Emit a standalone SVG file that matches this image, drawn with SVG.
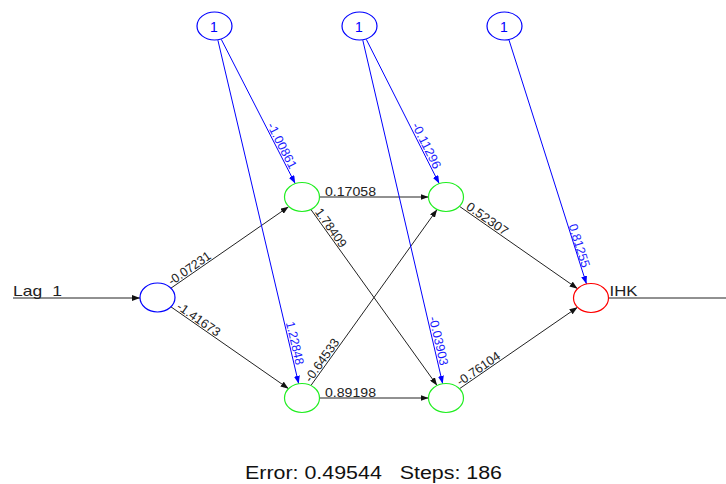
<svg xmlns="http://www.w3.org/2000/svg" width="726" height="484" viewBox="0 0 726 484">
<style>
.bg{fill:#fff}
.nb{fill:#fff;stroke:#0000ff;stroke-width:1.2}
.nh{fill:#fff;stroke:#22ee22;stroke-width:1.2}
.no{fill:#fff;stroke:#ff0000;stroke-width:1.2}
.e{stroke:#222;stroke-width:1;fill:none}
.eb{stroke:#0000ff;stroke-width:1;fill:none}
.t{font-family:"Liberation Sans",Arial,sans-serif;font-size:12.5px;fill:#222}
.tb{font-family:"Liberation Sans",Arial,sans-serif;font-size:12.5px;fill:#1a1aff}
.tn{font-family:"Liberation Sans",Arial,sans-serif;font-size:14px;fill:#0000ff;text-anchor:middle}
.tl{font-family:"Liberation Sans",Arial,sans-serif;font-size:15px;fill:#222}
.tf{font-family:"Liberation Sans",Arial,sans-serif;font-size:18px;fill:#111}
</style>
<defs>
<marker id="ak" markerWidth="8" markerHeight="6" refX="8" refY="3" orient="auto" markerUnits="userSpaceOnUse"><path d="M0,0 L8,3 L0,6 z" fill="#111"/></marker>
<marker id="ab" markerWidth="8" markerHeight="6" refX="8" refY="3" orient="auto" markerUnits="userSpaceOnUse"><path d="M0,0 L8,3 L0,6 z" fill="#0000ff"/></marker>
</defs>
<rect class="bg" x="0" y="0" width="726" height="484"/>
<g id="connectors">
<line class="e" x1="13" y1="298" x2="140" y2="298" marker-end="url(#ak)"/>
<line class="e" x1="608.5" y1="298" x2="726" y2="298"/>
<line class="e" x1="170.9" y1="288.2" x2="288.6" y2="206.7" marker-end="url(#ak)"/>
<line class="e" x1="170.9" y1="306.8" x2="288.6" y2="388.7" marker-end="url(#ak)"/>
<line class="e" x1="319.5" y1="197" x2="428.5" y2="197" marker-end="url(#ak)"/>
<line class="e" x1="310.9" y1="209.5" x2="437.1" y2="385.5" marker-end="url(#ak)"/>
<line class="e" x1="310.9" y1="385.5" x2="437.1" y2="209.5" marker-end="url(#ak)"/>
<line class="e" x1="319.5" y1="398" x2="428.5" y2="398" marker-end="url(#ak)"/>
<line class="e" x1="459.4" y1="206.3" x2="577.6" y2="288.7" marker-end="url(#ak)"/>
<line class="e" x1="459.5" y1="388.7" x2="577.5" y2="307.3" marker-end="url(#ak)"/>
<line class="eb" x1="221.3" y1="39.4" x2="295.2" y2="183.6" marker-end="url(#ab)"/>
<line class="eb" x1="217.9" y1="40.2" x2="298.7" y2="383.8" marker-end="url(#ab)"/>
<line class="eb" x1="366.3" y1="39.4" x2="439.2" y2="183.6" marker-end="url(#ab)"/>
<line class="eb" x1="362.8" y1="40.2" x2="442.7" y2="383.8" marker-end="url(#ab)"/>
<line class="eb" x1="509" y1="40" x2="586.5" y2="284" marker-end="url(#ab)"/>
<text class="t" transform="translate(172.5,287.1) rotate(-34.8)" x="0" y="-1.5" textLength="49" lengthAdjust="spacingAndGlyphs">-0.07231</text>
<text class="t" transform="translate(175,309.7) rotate(34.8)" x="0" y="-1.5" textLength="50" lengthAdjust="spacingAndGlyphs">-1.41673</text>
<text class="t" transform="translate(313.2,212.8) rotate(54.4)" x="0" y="-1.5" textLength="45" lengthAdjust="spacingAndGlyphs">1.78409</text>
<text class="t" transform="translate(312,383.9) rotate(-54.4)" x="0" y="-1.5" textLength="50" lengthAdjust="spacingAndGlyphs">-0.64533</text>
<text class="t" transform="translate(464.3,209.7) rotate(34.8)" x="0" y="-1.5" textLength="48" lengthAdjust="spacingAndGlyphs">0.52307</text>
<text class="t" transform="translate(461.1,387.6) rotate(-34.6)" x="0" y="-1.5" textLength="50" lengthAdjust="spacingAndGlyphs">-0.76104</text>
<text class="t" x="325" y="196" textLength="51" lengthAdjust="spacingAndGlyphs">0.17058</text>
<text class="t" x="325" y="397" textLength="51" lengthAdjust="spacingAndGlyphs">0.89198</text>
<text class="tb" transform="translate(265.5,126) rotate(62.9)" x="0" y="-1.5" textLength="50" lengthAdjust="spacingAndGlyphs">-1.00861</text>
<text class="tb" transform="translate(410.1,125.9) rotate(63.2)" x="0" y="-1.5" textLength="50" lengthAdjust="spacingAndGlyphs">-0.11296</text>
<text class="tb" transform="translate(567,226) rotate(72.4)" x="0" y="-1.5" textLength="45" lengthAdjust="spacingAndGlyphs">0.81255</text>
<text class="tb" transform="translate(284.4,323) rotate(76.8)" x="0" y="-1.5" textLength="44" lengthAdjust="spacingAndGlyphs">1.22848</text>
<text class="tb" transform="translate(427.4,317.8) rotate(76.9)" x="0" y="-1.5" textLength="50" lengthAdjust="spacingAndGlyphs">-0.03903</text>
</g>
<g id="bias1"><ellipse class="nb" cx="214.5" cy="26" rx="17.5" ry="14"/><text class="tn" x="214" y="32">1</text></g>
<g id="bias2"><ellipse class="nb" cx="359.5" cy="26" rx="17.5" ry="14"/><text class="tn" x="359" y="32">1</text></g>
<g id="bias3"><ellipse class="nb" cx="504.5" cy="26" rx="17.5" ry="14"/><text class="tn" x="504" y="32">1</text></g>
<g id="input"><ellipse class="nb" cx="157.5" cy="297.5" rx="17.5" ry="14.5"/><text class="tl" x="13" y="296" word-spacing="4.5" textLength="49" lengthAdjust="spacingAndGlyphs">Lag 1</text></g>
<g id="hidden1a"><ellipse class="nh" cx="302" cy="197" rx="17.5" ry="14.5"/></g>
<g id="hidden1b"><ellipse class="nh" cx="302" cy="398" rx="17.5" ry="14.5"/></g>
<g id="hidden2a"><ellipse class="nh" cx="446" cy="197" rx="17.5" ry="14.5"/></g>
<g id="hidden2b"><ellipse class="nh" cx="446" cy="398" rx="17.5" ry="14.5"/></g>
<g id="output"><ellipse class="no" cx="591" cy="298" rx="17.5" ry="14.5"/><text class="tl" x="609.5" y="296" textLength="28" lengthAdjust="spacingAndGlyphs">IHK</text></g>
<text class="tf" x="245" y="479" textLength="257" lengthAdjust="spacingAndGlyphs" xml:space="preserve">Error: 0.49544   Steps: 186</text>
</svg>
